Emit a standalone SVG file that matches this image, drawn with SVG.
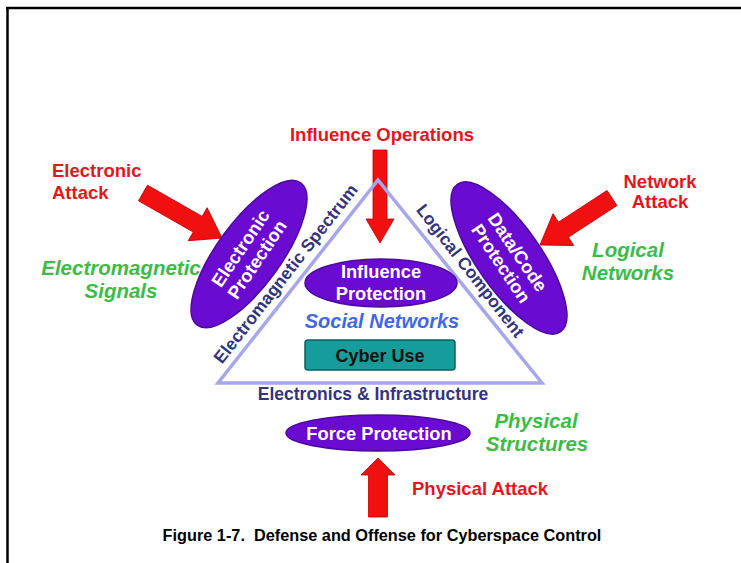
<svg xmlns="http://www.w3.org/2000/svg" width="741" height="563" viewBox="0 0 741 563">
<style>
text{font-family:"Liberation Sans",Arial,sans-serif;font-weight:bold}
.red{fill:#e4161c;font-size:18.5px}
.green{fill:#3dbb48;font-size:20.5px;font-style:italic}
.navy{fill:#34347e;font-size:17.5px}
.wht{fill:#ffffff;font-size:18.3px}
.ell{fill:#6a0bd2;stroke:#4a0a9a;stroke-width:1.5}
.arr{fill:#f01010;stroke:#c00000;stroke-width:0.8}
</style>
<rect width="741" height="563" fill="#ffffff"/>
<g id="frame" stroke="#000" stroke-width="2.5" fill="none">
<line x1="6" y1="8" x2="741" y2="8"/>
<line x1="7.5" y1="8" x2="7.5" y2="563"/>
</g>
<g id="connectors">
<polygon class="arr" transform="translate(143,193) rotate(29.7)" points="0,-9 63,-9 63,-19 91,0 63,19 63,9 0,9"/>
<polygon class="arr" transform="translate(612,198) rotate(146.9)" points="0,-9 58,-9 58,-19 86,0 58,19 58,9 0,9"/>
<polygon class="arr" transform="translate(380,150) rotate(90)" points="0,-7 69,-7 69,-14 93,0 69,14 69,7 0,7"/>
<polygon class="arr" transform="translate(378,517) rotate(-90)" points="0,-9.5 42,-9.5 42,-17 59,0 42,17 42,9.5 0,9.5"/>
</g>
<g id="triangle">
<polygon points="378,180 218,383 542,383" fill="none" stroke="#a6a6ec" stroke-width="3.5" stroke-linejoin="miter"/>
<text class="navy" transform="translate(286,274) rotate(-52)" x="0" y="5.5" text-anchor="middle">Electromagnetic Spectrum</text>
<text class="navy" transform="translate(470,271) rotate(52)" x="0" y="5.5" text-anchor="middle">Logical Component</text>
<text class="navy" x="373" y="400" text-anchor="middle">Electronics &amp; Infrastructure</text>
</g>
<g id="electronic-attack">
<text class="red" x="52" y="177">Electronic</text>
<text class="red" x="52" y="199">Attack</text>
</g>
<g id="electromagnetic-signals">
<text class="green" x="121" y="275" text-anchor="middle">Electromagnetic</text>
<text class="green" x="121" y="298" text-anchor="middle">Signals</text>
</g>
<g id="electronic-protection">
<ellipse class="ell" cx="249" cy="254" rx="88" ry="32" transform="rotate(-54 249 254)"/>
<g transform="translate(249,254) rotate(-56)">
<text class="wht" x="0" y="-4" text-anchor="middle">Electronic</text>
<text class="wht" x="0" y="16" text-anchor="middle">Protection</text>
</g>
</g>
<g id="influence-operations">
<text class="red" x="382" y="141" text-anchor="middle">Influence Operations</text>
</g>
<g id="influence-protection">
<ellipse class="ell" cx="381" cy="283" rx="76" ry="24"/>
<text class="wht" x="381" y="278" text-anchor="middle">Influence</text>
<text class="wht" x="381" y="300" text-anchor="middle">Protection</text>
</g>
<g id="social-networks">
<text x="382" y="328" text-anchor="middle" fill="#3f69e0" font-size="20" font-style="italic">Social Networks</text>
</g>
<g id="cyber-use">
<rect x="305" y="340" width="150" height="30" rx="3" fill="#169c9a" stroke="#0d5f5e" stroke-width="1.5"/>
<text x="380" y="362" text-anchor="middle" fill="#111" font-size="18">Cyber Use</text>
</g>
<g id="network-attack">
<text class="red" x="660" y="188" text-anchor="middle">Network</text>
<text class="red" x="660" y="208" text-anchor="middle">Attack</text>
</g>
<g id="logical-networks">
<text class="green" x="628" y="257" text-anchor="middle">Logical</text>
<text class="green" x="628" y="280" text-anchor="middle">Networks</text>
</g>
<g id="data-code-protection">
<ellipse class="ell" cx="509" cy="258" rx="90" ry="32" transform="rotate(55 509 258)"/>
<g transform="translate(509,258) rotate(56)">
<text class="wht" x="0" y="-4" text-anchor="middle">Data/Code</text>
<text class="wht" x="0" y="16" text-anchor="middle">Protection</text>
</g>
</g>
<g id="force-protection">
<ellipse class="ell" cx="378" cy="433" rx="92" ry="18"/>
<text class="wht" x="379" y="440" text-anchor="middle">Force Protection</text>
</g>
<g id="physical-structures">
<text class="green" x="536" y="428" text-anchor="middle">Physical</text>
<text class="green" x="537" y="451" text-anchor="middle">Structures</text>
</g>
<g id="physical-attack">
<text class="red" x="412" y="495">Physical Attack</text>
</g>
<g id="caption">
<text x="382" y="541" text-anchor="middle" fill="#000" font-size="16.3" xml:space="preserve">Figure 1-7.  Defense and Offense for Cyberspace Control</text>
</g>
</svg>
